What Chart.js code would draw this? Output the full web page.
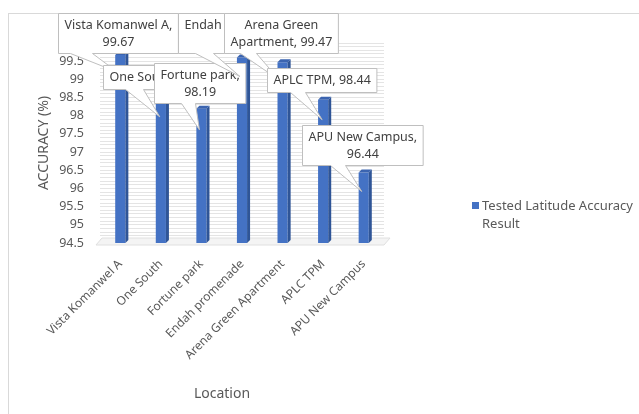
<!DOCTYPE html>
<html>
<head>
<meta charset="utf-8">
<script src="https://cdn.jsdelivr.net/npm/chart.js@4.4.0/dist/chart.umd.min.js"></script>
<style>
  html, body { margin: 0; padding: 0; background: #fff; }
  #wrap { width: 639px; height: 414px; }
</style>
</head>
<body>
<div id="wrap"><canvas id="myChart" width="639" height="414"></canvas></div>
<script>
// chart data
const locations = ['Vista Komanwel A', 'One South', 'Fortune park', 'Endah promenade', 'Arena Green Apartment', 'APLC TPM', 'APU New Campus'];
const accuracy = [99.67, 98.6, 98.19, 99.6, 99.47, 98.44, 96.44];
const yTickLabels = [94.5, 95, 95.5, 96, 96.5, 97, 97.5, 98, 98.5, 99, 99.5];
const seriesName = 'Tested Latitude Accuracy Result';

const FONT = "'Noto Sans', sans-serif";
const GREY = '#595959';

// callout boxes: offset of box from bar top, words on first line, wedge base, pointer tip
const callouts = [
  { dx: -62, dy: -42, split: 3, wedge: [12, 34], tip: [-3, 17] },
  { dx: -58, dy: -29, split: 0, wedge: [22, 40], tip: [-1, 23] },
  { dx: -47, dy: -46, split: 2, wedge: [27, 41], tip: [-2, 21] },
  { dx: -64, dy: -45, split: 2, wedge: [17, 35], tip: [-2, 19] },
  { dx: -59, dy: -49, split: 2, wedge: [16, 32], tip: [-3, 18] },
  { dx: -56, dy: -32, split: 0, wedge: [23, 38], tip: [-1, 20] },
  { dx: -62, dy: -47, split: 3, wedge: [28, 43], tip: [-2, 19] }
];

function isLabelTick(v) {
  return yTickLabels.some(t => Math.abs(t - v) < 1e-6);
}

// white page with the light frame
const framePlugin = {
  id: 'frame',
  beforeDraw(chart) {
    const ctx = chart.ctx;
    ctx.save();
    ctx.fillStyle = '#fff';
    ctx.fillRect(0, 0, chart.width, chart.height);
    ctx.strokeStyle = '#d9d9d9';
    ctx.lineWidth = 1;
    ctx.strokeRect(8.5, 13.5, chart.width + 10, chart.height + 10);
    ctx.restore();
  }
};

// floor under the bars
const floorPlugin = {
  id: 'floor',
  beforeDatasetsDraw(chart) {
    const a = chart.chartArea;
    const ctx = chart.ctx;
    ctx.save();
    ctx.fillStyle = '#f4f4f4';
    ctx.strokeStyle = '#e0e0e0';
    ctx.beginPath();
    ctx.moveTo(a.left - 4, a.bottom + 2);
    ctx.lineTo(a.right, a.bottom + 2);
    ctx.lineTo(a.right + 6, a.bottom - 5);
    ctx.lineTo(a.left + 2, a.bottom - 5);
    ctx.closePath();
    ctx.fill();
    ctx.stroke();
    ctx.restore();
  }
};

// darker side and top faces for the 3D look
const bar3dPlugin = {
  id: 'bar3d',
  afterDatasetsDraw(chart) {
    const ctx = chart.ctx;
    const meta = chart.getDatasetMeta(0);
    const bottom = chart.chartArea.bottom;
    const d = 3;
    ctx.save();
    meta.data.forEach(bar => {
      const r = bar.x + bar.width / 2;
      const l = bar.x - bar.width / 2;
      const base = Math.min(bar.base, bottom);
      ctx.fillStyle = '#2f5597';
      ctx.beginPath();
      ctx.moveTo(r, bar.y);
      ctx.lineTo(r + d, bar.y - d);
      ctx.lineTo(r + d, base - d);
      ctx.lineTo(r, base);
      ctx.closePath();
      ctx.fill();
      ctx.fillStyle = '#3b64b0';
      ctx.beginPath();
      ctx.moveTo(l, bar.y);
      ctx.lineTo(l + d, bar.y - d);
      ctx.lineTo(r + d, bar.y - d);
      ctx.lineTo(r, bar.y);
      ctx.closePath();
      ctx.fill();
    });
    ctx.restore();
  }
};

// Excel style callout data labels
const calloutPlugin = {
  id: 'callouts',
  afterDraw(chart) {
    const ctx = chart.ctx;
    const meta = chart.getDatasetMeta(0);
    ctx.save();
    ctx.font = '12.5px ' + FONT;
    ctx.textAlign = 'center';
    ctx.textBaseline = 'middle';
    meta.data.forEach((bar, i) => {
      const c = callouts[i];
      const words = (locations[i] + ', ' + accuracy[i]).split(' ');
      const lines = c.split ? [words.slice(0, c.split).join(' '), words.slice(c.split).join(' ')] : [words.join(' ')];
      const w = Math.max(...lines.map(s => ctx.measureText(s).width)) + 12;
      const h = lines.length === 2 ? 40 : 24;
      const x = Math.round(bar.x + c.dx) + 0.5;
      const y = Math.round(bar.y + c.dy) + 0.5;
      ctx.beginPath();
      ctx.moveTo(x, y);
      ctx.lineTo(x + w, y);
      ctx.lineTo(x + w, y + h);
      ctx.lineTo(x + c.wedge[1], y + h);
      ctx.lineTo(bar.x + c.tip[0], bar.y + c.tip[1]);
      ctx.lineTo(x + c.wedge[0], y + h);
      ctx.lineTo(x, y + h);
      ctx.closePath();
      ctx.fillStyle = '#fff';
      ctx.fill();
      ctx.strokeStyle = '#bfbfbf';
      ctx.lineWidth = 1;
      ctx.stroke();
      ctx.fillStyle = '#404040';
      lines.forEach((s, k) => {
        ctx.fillText(s, x + w / 2, y + h / 2 + (k - (lines.length - 1) / 2) * 17);
      });
    });
    ctx.restore();
  }
};

// legend on the right and the x axis title
const sidePlugin = {
  id: 'side',
  afterDraw(chart) {
    const ctx = chart.ctx;
    const ds = chart.data.datasets[0];
    ctx.save();
    ctx.fillStyle = ds.backgroundColor;
    ctx.fillRect(472, 202, 7, 7);
    ctx.fillStyle = GREY;
    ctx.font = '13px ' + FONT;
    ctx.textAlign = 'left';
    ctx.textBaseline = 'middle';
    const parts = ds.label.split(' ');
    ctx.fillText(parts.slice(0, 3).join(' '), 482, 206);
    ctx.fillText(parts.slice(3).join(' '), 482, 224);
    ctx.font = '14px ' + FONT;
    ctx.textAlign = 'center';
    ctx.fillText('Location', 222, 394);
    ctx.restore();
  }
};

const ctx = document.getElementById('myChart').getContext('2d');
const myChart = new Chart(ctx, {
  type: 'bar',
  data: {
    labels: locations,
    datasets: [{
      label: seriesName,
      data: accuracy,
      backgroundColor: '#4472c4',
      borderWidth: 0,
      barPercentage: 0.25,
      categoryPercentage: 1
    }]
  },
  options: {
    responsive: false,
    animation: false,
    layout: { padding: { left: 8, top: 43, right: 255, bottom: 0 } },
    plugins: {
      legend: { display: false },
      tooltip: { enabled: false }
    },
    scales: {
      x: {
        grid: { display: false },
        border: { display: false },
        ticks: {
          color: GREY,
          font: { family: FONT, size: 12 },
          minRotation: 45,
          maxRotation: 45,
          padding: 6
        },
        afterFit(scale) { scale.height = 171; }
      },
      y: {
        min: 94.5,
        max: 100,
        border: { display: false },
        grid: { color: '#e4e4e4', drawTicks: false },
        ticks: {
          stepSize: 0.1,
          color: GREY,
          font: { family: FONT, size: 12.5 },
          padding: 16,
          autoSkip: false,
          callback: v => isLabelTick(v) ? String(Math.round(v * 10) / 10) : ''
        },
        title: {
          display: true,
          text: 'ACCURACY (%)',
          color: GREY,
          font: { family: FONT, size: 14 },
          padding: { top: 28, bottom: 0 }
        },
        afterFit(scale) { scale.width = 92; }
      }
    }
  },
  plugins: [framePlugin, floorPlugin, bar3dPlugin, calloutPlugin, sidePlugin]
});
</script>
</body>
</html>
